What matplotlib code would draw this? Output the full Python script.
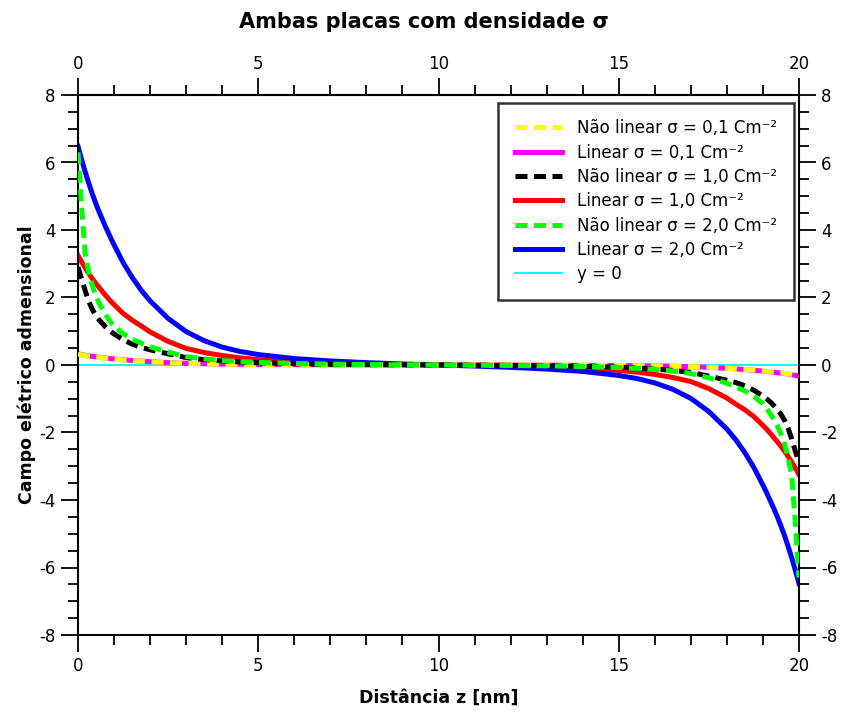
import matplotlib
matplotlib.use("Agg")
import matplotlib.pyplot as plt
from matplotlib.ticker import MultipleLocator

# ---- data ----
z_left = [0, 0.05, 0.1, 0.15, 0.2, 0.3, 0.4, 0.5, 0.6, 0.75, 0.9, 1.0, 1.25, 1.5,
          1.75, 2.0, 2.5, 3.0, 3.5, 4.0, 4.5, 5, 6, 7, 8, 9, 10]
z_right = [11, 12, 13, 14, 15, 15.5, 16, 16.5, 17, 17.5, 18, 18.25, 18.5, 18.75,
           19.0, 19.1, 19.25, 19.4, 19.5, 19.6, 19.7, 19.8, 19.85, 19.9, 19.95, 20]
z = z_left + z_right

# Não linear sigma = 0.1
nl_01 = [0.32, 0.31, 0.30, 0.29, 0.28, 0.265, 0.25, 0.235, 0.225, 0.205, 0.185, 0.175,
         0.15, 0.13, 0.112, 0.097, 0.068, 0.048, 0.036, 0.027, 0.02, 0.015, 0.009,
         0.005, 0.003, 0.001, 0.0,
         -0.001, -0.003, -0.005, -0.009, -0.015, -0.02, -0.027, -0.036, -0.048, -0.068,
         -0.097, -0.112, -0.13, -0.15, -0.175, -0.185, -0.205, -0.225, -0.235, -0.25,
         -0.265, -0.28, -0.29, -0.30, -0.31, -0.32]
# Linear sigma = 0.1
li_01 = [0.33, 0.32, 0.31, 0.30, 0.29, 0.27, 0.255, 0.24, 0.23, 0.21, 0.19, 0.18,
         0.155, 0.135, 0.115, 0.10, 0.07, 0.05, 0.037, 0.028, 0.021, 0.016, 0.01,
         0.006, 0.003, 0.0015, 0.0,
         -0.0015, -0.003, -0.006, -0.01, -0.016, -0.021, -0.028, -0.037, -0.05, -0.07,
         -0.10, -0.115, -0.135, -0.155, -0.18, -0.19, -0.21, -0.23, -0.24, -0.255,
         -0.27, -0.29, -0.30, -0.31, -0.32, -0.33]
# Não linear sigma = 1.0
nl_10 = [2.9, 2.72, 2.56, 2.38, 2.2, 1.88, 1.64, 1.46, 1.32, 1.14, 1.0, 0.92,
         0.75, 0.62, 0.52, 0.45, 0.33, 0.22, 0.16, 0.12, 0.09, 0.065, 0.04,
         0.022, 0.012, 0.005, 0.0,
         -0.005, -0.012, -0.022, -0.04, -0.065, -0.09, -0.12, -0.16, -0.22, -0.33,
         -0.45, -0.52, -0.62, -0.75, -0.92, -1.0, -1.14, -1.32, -1.46, -1.64,
         -1.88, -2.2, -2.38, -2.56, -2.72, -2.9]
# Linear sigma = 1.0
li_10 = [3.25, 3.15, 3.06, 2.97, 2.88, 2.71, 2.55, 2.41, 2.28, 2.08, 1.90, 1.79,
         1.53, 1.33, 1.16, 0.98, 0.70, 0.49, 0.37, 0.28, 0.21, 0.16, 0.10,
         0.06, 0.035, 0.015, 0.0,
         -0.015, -0.035, -0.06, -0.10, -0.16, -0.21, -0.28, -0.37, -0.49, -0.70,
         -0.98, -1.16, -1.33, -1.53, -1.79, -1.90, -2.08, -2.28, -2.41, -2.55,
         -2.71, -2.88, -2.97, -3.06, -3.15, -3.25]
# Não linear sigma = 2.0
nl_20 = [6.3, 5.55, 4.7, 4.0, 3.3, 2.75, 2.35, 2.04, 1.8, 1.52, 1.28, 1.15,
         0.93, 0.77, 0.65, 0.54, 0.38, 0.25, 0.18, 0.13, 0.10, 0.075, 0.045,
         0.025, 0.013, 0.005, 0.0,
         -0.005, -0.013, -0.025, -0.045, -0.075, -0.10, -0.13, -0.18, -0.25, -0.38,
         -0.54, -0.65, -0.77, -0.93, -1.15, -1.28, -1.52, -1.8, -2.04, -2.35,
         -2.75, -3.3, -4.0, -4.7, -5.55, -6.3]
# Linear sigma = 2.0
li_20 = [6.48, 6.28, 6.09, 5.90, 5.72, 5.38, 5.06, 4.77, 4.50, 4.13, 3.78, 3.56,
         3.04, 2.60, 2.22, 1.90, 1.38, 0.99, 0.72, 0.53, 0.40, 0.31, 0.19,
         0.12, 0.07, 0.03, 0.0,
         -0.03, -0.07, -0.12, -0.19, -0.31, -0.40, -0.53, -0.72, -0.99, -1.38,
         -1.90, -2.22, -2.60, -3.04, -3.56, -3.78, -4.13, -4.50, -4.77, -5.06,
         -5.38, -5.72, -5.90, -6.09, -6.28, -6.48]
zero_x = [0, 20]
zero_y = [0, 0]

labels = ["Não linear σ = 0,1 Cm⁻²", "Linear σ = 0,1 Cm⁻²",
          "Não linear σ = 1,0 Cm⁻²", "Linear σ = 1,0 Cm⁻²",
          "Não linear σ = 2,0 Cm⁻²", "Linear σ = 2,0 Cm⁻²", "y = 0"]

plt.rcParams['font.family'] = ['DejaVu Sans']
plt.rcParams['axes.unicode_minus'] = False

fig = plt.figure(figsize=(8.48, 7.13), dpi=100)
ax = fig.add_axes([78/848, 1 - 635/713, (799-78)/848, (635-95)/713])

lw = 3.6
dash = (2.4, 1.3)
l_cy, = ax.plot(zero_x, zero_y, color='#00ffff', lw=1.4, zorder=1)
l_mg, = ax.plot(z, li_01, color='#ff00ff', lw=lw, zorder=2)
l_ye, = ax.plot(z, nl_01, color='#ffff00', lw=lw, dashes=dash, zorder=3)
l_rd, = ax.plot(z, li_10, color='#ff0000', lw=lw, zorder=2)
l_bk, = ax.plot(z, nl_10, color='#000000', lw=lw, dashes=dash, zorder=3)
l_bl, = ax.plot(z, li_20, color='#0000ff', lw=lw, zorder=2)
l_gr, = ax.plot(z, nl_20, color='#00ff00', lw=lw, dashes=dash, zorder=4)

ax.set_xlim(0, 20)
ax.set_ylim(-8, 8)
ax.xaxis.set_major_locator(MultipleLocator(5))
ax.xaxis.set_minor_locator(MultipleLocator(1))
ax.yaxis.set_major_locator(MultipleLocator(2))
ax.yaxis.set_minor_locator(MultipleLocator(0.5))
ax.tick_params(which='both', direction='out', top=True, right=True,
               labeltop=True, labelright=True, width=1.3, labelsize=12, colors='black')
ax.tick_params(which='major', length=12, pad=4)
ax.tick_params(which='minor', length=7)
for s in ax.spines.values():
    s.set_linewidth(1.5)

ax.set_xlabel("Distância z [nm]", fontsize=12.5, fontweight='bold', labelpad=10)
ax.set_ylabel("Campo elétrico admensional", fontsize=12.5, fontweight='bold', labelpad=2)
fig.text(0.5, 1 - 22/713, "Ambas placas com densidade σ", ha='center', va='center',
         fontsize=15, fontweight='bold')

handles = [l_ye, l_mg, l_bk, l_rd, l_gr, l_bl, l_cy]
leg = ax.legend(handles, labels, loc='upper right', bbox_to_anchor=(0.997, 0.992),
                fontsize=12, frameon=True, fancybox=False, handlelength=2.8,
                handletextpad=0.9, labelspacing=0.38, borderpad=1.0, borderaxespad=0.2)
leg.get_frame().set_edgecolor('black')
leg.get_frame().set_linewidth(1.8)
leg.set_zorder(10)

fig.savefig("out.png", dpi=100)
